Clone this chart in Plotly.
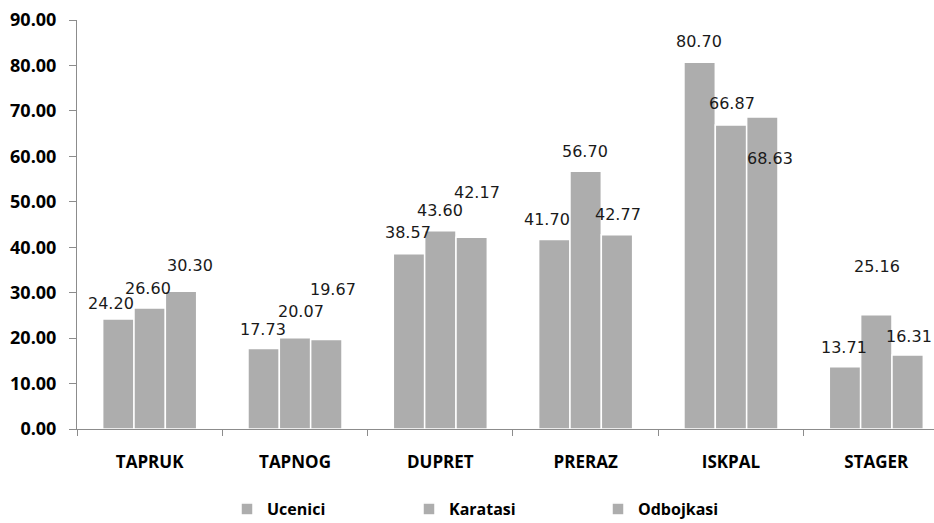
import plotly.graph_objects as go

# Test categories and group results
categories = ["TAPRUK", "TAPNOG", "DUPRET", "PRERAZ", "ISKPAL", "STAGER"]
ucenici = [24.20, 17.73, 38.57, 41.70, 80.70, 13.71]
karatasi = [26.60, 20.07, 43.60, 56.70, 66.87, 25.16]
odbojkasi = [30.30, 19.67, 42.17, 42.77, 68.63, 16.31]
series_names = ["Ucenici", "Karatasi", "Odbojkasi"]
y_ticks = [0, 10, 20, 30, 40, 50, 60, 70, 80, 90]

# Pixel nudges (dx, dy above bar top) for each value label, per series
label_nudges = [
    [(-7, 16), (-1, 19), (-1, 21), (-7, 20), (-1, 21), (-1, 19)],
    [(-2, 20), (6, 26), (0, 20), (-1, 20), (1, 22), (1, 48)],
    [(9, 26), (7, 50), (5, 45), (1, 20), (8, -41), (1, 18)],
]

BAR_COLOR = "#adadad"
BARGAP = 0.353
series = [ucenici, karatasi, odbojkasi]

fig = go.Figure()
legends = ["legend", "legend2", "legend3"]
for name, vals, lg in zip(series_names, series, legends):
    fig.add_trace(go.Bar(
        x=categories, y=vals, name=name, legend=lg,
        marker=dict(color=BAR_COLOR, line=dict(color="white", width=1.5)),
        hoverinfo="x+y+name",
    ))

# Value labels placed relative to each bar's centre in axis coordinates
bar_w = (1 - BARGAP) / len(series)
for j, vals in enumerate(series):
    for i, v in enumerate(vals):
        dx, dy = label_nudges[j][i]
        fig.add_annotation(
            x=i + (j - 1) * bar_w, y=v, xref="x", yref="y",
            text=f"{v:.2f}", showarrow=False,
            xanchor="center", yanchor="middle",
            xshift=dx, yshift=dy,
            font=dict(family="DejaVu Sans", size=16, color="#1a1a1a"),
        )

legend_font = dict(family="Open Sans", size=16, color="#000000", weight="bold")
legend_common = dict(orientation="h", yanchor="middle", xanchor="left",
                     xref="container", yref="container",
                     font=legend_font, bgcolor="rgba(0,0,0,0)",
                     itemwidth=30, traceorder="normal")
W, H = 934, 523
LEG_Y = 1 - 509 / H
fig.update_layout(
    width=W, height=H,
    margin=dict(l=77, r=0, t=20, b=94, autoexpand=False),
    paper_bgcolor="white", plot_bgcolor="white",
    barmode="group", bargap=BARGAP, bargroupgap=0,
    showlegend=True,
    legend=dict(x=227 / W, y=LEG_Y, **legend_common),
    legend2=dict(x=409 / W, y=LEG_Y, **legend_common),
    legend3=dict(x=598 / W, y=LEG_Y, **legend_common),
    xaxis=dict(
        type="category", range=[-0.5, 5.397],
        showline=True, linecolor="#8c8c8c", linewidth=1,
        ticks="outside", tickson="boundaries", ticklen=6, tickcolor="#8c8c8c",
        showgrid=False, zeroline=False,
        tickfont=dict(family="Open Sans", size=17, color="#000000", weight="bold"),
        ticklabelstandoff=18,
    ),
    yaxis=dict(
        range=[0, 90], tickvals=y_ticks, tickformat=".2f",
        showline=True, linecolor="#8c8c8c", linewidth=1,
        ticks="outside", ticklen=7, tickcolor="#8c8c8c",
        showgrid=False, zeroline=False,
        tickfont=dict(family="Open Sans", size=18, color="#000000", weight="bold"),
        ticklabelstandoff=9,
    ),
)

fig.write_html("out.html")
